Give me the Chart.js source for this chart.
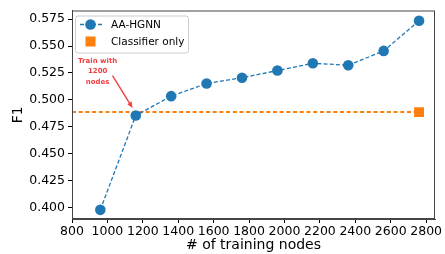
<!DOCTYPE html>
<html>
<head>
<meta charset="utf-8">
<script src="https://cdn.jsdelivr.net/npm/chart.js@4/dist/chart.umd.min.js"></script>
<style>
  html, body { margin: 0; padding: 0; background: #fff; }
  #wrap { width: 445px; height: 254px; }
</style>
</head>
<body>
<div id="wrap"><canvas id="chart"></canvas></div>
<script>
// données
const trainingNodes = [960, 1160, 1360, 1560, 1760, 1960, 2160, 2360, 2560, 2760];
const aaHgnnF1 = [0.398, 0.4855, 0.5035, 0.5152, 0.5206, 0.5273, 0.534, 0.5322, 0.5455, 0.5735];
const classifierX = [800, 2760];
const classifierF1 = [0.4887, 0.4887];
const xTicks = [800, 1000, 1200, 1400, 1600, 1800, 2000, 2200, 2400, 2600, 2800];
const yTicks = [0.400, 0.425, 0.450, 0.475, 0.500, 0.525, 0.550, 0.575];
const noteLines = ['Train with', '1200', 'nodes'];
const noteText = { x: 945, y: 0.5361 };
const noteArrow = { x0: 1029, y0: 0.5225, x1: 1142, y1: 0.4925 };

const BLUE = '#1f77b4';
const ORANGE = '#ff7f0e';
const FONT = "'DejaVu Sans', sans-serif";

// cadre complet autour de la zone de tracé
const framePlugin = {
    id: 'frame',
    afterDraw(chart) {
        const { ctx, chartArea: a } = chart;
        ctx.save();
        ctx.strokeStyle = '#444';
        ctx.lineWidth = 1;
        ctx.strokeRect(a.left + 0.5, a.top + 0.5, a.right - a.left - 1, a.bottom - a.top - 1);
        ctx.restore();
    }
};

// annotation "Train with 1200 nodes" + flèche
const notePlugin = {
    id: 'note',
    afterDatasetsDraw(chart) {
        const { ctx, scales: { x, y } } = chart;
        ctx.save();
        ctx.fillStyle = '#f24040';
        ctx.strokeStyle = '#f24040';
        ctx.font = 'bold 7px ' + FONT;
        ctx.textAlign = 'center';
        ctx.textBaseline = 'middle';
        const tx = x.getPixelForValue(noteText.x);
        const ty = y.getPixelForValue(noteText.y);
        noteLines.forEach((l, i) => ctx.fillText(l, tx, ty + i * 10.5));

        const x0 = x.getPixelForValue(noteArrow.x0), y0 = y.getPixelForValue(noteArrow.y0);
        const x1 = x.getPixelForValue(noteArrow.x1), y1 = y.getPixelForValue(noteArrow.y1);
        const ang = Math.atan2(y1 - y0, x1 - x0);
        const head = 6.5;
        ctx.lineWidth = 1.4;
        ctx.beginPath();
        ctx.moveTo(x0, y0);
        ctx.lineTo(x1 - Math.cos(ang) * head * 0.8, y1 - Math.sin(ang) * head * 0.8);
        ctx.stroke();
        ctx.beginPath();
        ctx.moveTo(x1, y1);
        ctx.lineTo(x1 - head * Math.cos(ang - 0.4), y1 - head * Math.sin(ang - 0.4));
        ctx.lineTo(x1 - head * Math.cos(ang + 0.4), y1 - head * Math.sin(ang + 0.4));
        ctx.closePath();
        ctx.fill();
        ctx.restore();
    }
};

// légende façon matplotlib, dans la zone de tracé
const legendPlugin = {
    id: 'mplLegend',
    afterDatasetsDraw(chart) {
        const { ctx, chartArea: a } = chart;
        const bx = a.left + 3, by = a.top + 5, bw = 113, bh = 37;
        ctx.save();
        ctx.fillStyle = 'rgba(255,255,255,0.85)';
        ctx.strokeStyle = '#cccccc';
        ctx.lineWidth = 1;
        ctx.beginPath();
        ctx.roundRect(bx + 0.5, by + 0.5, bw, bh, 2.5);
        ctx.fill();
        ctx.stroke();

        const mx = bx + 15.5;
        const r1 = by + 9, r2 = by + 26;
        // AA-HGNN
        ctx.strokeStyle = BLUE;
        ctx.lineWidth = 1.3;
        ctx.setLineDash([4, 2]);
        ctx.beginPath();
        ctx.moveTo(bx + 5, r1);
        ctx.lineTo(bx + 27, r1);
        ctx.stroke();
        ctx.setLineDash([]);
        ctx.fillStyle = BLUE;
        ctx.beginPath();
        ctx.arc(mx, r1, 5.3, 0, Math.PI * 2);
        ctx.fill();
        // Classifier only
        ctx.fillStyle = ORANGE;
        ctx.fillRect(mx - 5, r2 - 5, 10, 10);

        ctx.fillStyle = '#000';
        ctx.font = '10.5px ' + FONT;
        ctx.textAlign = 'left';
        ctx.textBaseline = 'middle';
        ctx.fillText(chart.data.datasets[0].label, bx + 36, r1 + 0.5);
        ctx.fillText(chart.data.datasets[1].label, bx + 36, r2 + 0.5);
        ctx.restore();
    }
};

new Chart(document.getElementById('chart'), {
    type: 'scatter',
    data: {
        datasets: [{
            label: 'AA-HGNN',
            data: trainingNodes.map((n, i) => ({ x: n, y: aaHgnnF1[i] })),
            showLine: true,
            borderColor: BLUE,
            backgroundColor: BLUE,
            borderWidth: 1.3,
            borderDash: [4, 2.2],
            pointRadius: 5.3,
            pointBorderWidth: 0,
            pointHoverRadius: 5.3,
            order: 1
        }, {
            label: 'Classifier only',
            data: classifierX.map((n, i) => ({ x: n, y: classifierF1[i] })),
            showLine: true,
            borderColor: ORANGE,
            backgroundColor: ORANGE,
            borderWidth: 2,
            borderDash: [4, 2.7],
            pointStyle: 'rect',
            pointRadius: [0, 7],
            pointBorderWidth: 0,
            order: 2
        }]
    },
    options: {
        responsive: true,
        maintainAspectRatio: false,
        animation: false,
        events: [],
        layout: { padding: { left: 0, right: 10, top: 6, bottom: 0 } },
        plugins: {
            legend: { display: false },
            tooltip: { enabled: false }
        },
        scales: {
            x: {
                type: 'linear',
                min: 800,
                max: 2850,
                afterBuildTicks: (s) => { s.ticks = xTicks.map(v => ({ value: v })); },
                afterFit: (s) => { s.height = 35; },
                ticks: {
                    color: '#000',
                    font: { family: FONT, size: 12.5 },
                    padding: 1,
                    maxRotation: 0,
                    autoSkip: false,
                    callback: (v) => String(v)
                },
                grid: { display: true, drawOnChartArea: false, drawTicks: true, tickLength: 4, tickColor: '#000' },
                border: { display: true, color: '#444' },
                title: {
                    display: true,
                    text: '# of training nodes',
                    color: '#000',
                    font: { family: FONT, size: 14 },
                    padding: { top: 0, bottom: 0 }
                }
            },
            y: {
                min: 0.3895,
                max: 0.583,
                afterBuildTicks: (s) => { s.ticks = yTicks.map(v => ({ value: v })); },
                afterFit: (s) => { s.width = 72; },
                ticks: {
                    color: '#000',
                    font: { family: FONT, size: 12.5 },
                    padding: 3,
                    callback: (v) => v.toFixed(3)
                },
                grid: { display: true, drawOnChartArea: false, drawTicks: true, tickLength: 4, tickColor: '#000' },
                border: { display: true, color: '#444' },
                title: {
                    display: true,
                    text: 'F1',
                    color: '#000',
                    font: { family: FONT, size: 14 },
                    padding: { top: 10, bottom: 0 }
                }
            }
        }
    },
    plugins: [framePlugin, notePlugin, legendPlugin]
});
</script>
</body>
</html>
